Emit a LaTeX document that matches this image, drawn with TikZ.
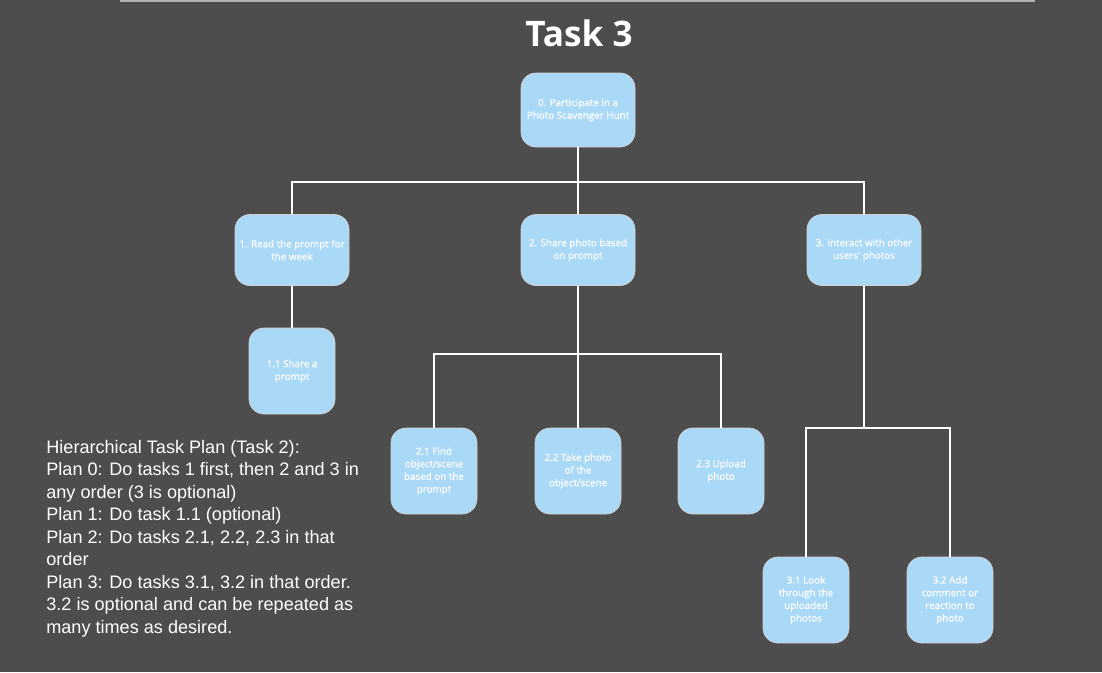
\documentclass[tikz,border=0pt]{standalone}
\usepackage{fontspec}
\setmainfont{Open Sans}
\newfontfamily\plainfont{Liberation Sans}
\newfontfamily\boxfont[FakeBold=0.7]{Open Sans}
\usetikzlibrary{positioning}
\definecolor{bgdark}{HTML}{4D4D4D}
\definecolor{boxblue}{HTML}{AAD9F7}
\tikzstyle{task} = [rectangle, rounded corners=0.3cm, minimum width=2.28cm, minimum height=1.42cm, align=center, draw=gray!35, line width=0.4pt, fill=boxblue, text=white, font=\boxfont\fontsize{5.6}{7.2}\selectfont, inner sep=1pt]
\tikzstyle{subtask} = [task, minimum width=1.72cm, minimum height=1.72cm]
\tikzstyle{line} = [white, line width=0.8pt]

\begin{document}
\begin{tikzpicture}

\fill [bgdark] (0,0) rectangle (22.04,-13.44);
\useasboundingbox (0,0) rectangle (22.04,-13.44);
\draw [gray!60, line width=1.5pt] (2.4,-0.02) -- (20.7,-0.02);

\node (title) [text=white, font=\fontsize{20}{22}\selectfont\bfseries] at (11.58,-0.66) {Task 3};

\node (t0) [task, minimum height=1.48cm] at (11.56,-2.2) {0. Participate in a\\Photo Scavenger Hunt};

\node (t1) [task] at (5.84,-5.0) {1. Read the prompt for\\the week};
\node (t2) [task] at (11.56,-5.0) {2. Share photo based\\on prompt};
\node (t3) [task] at (17.28,-5.0) {3. Interact with other\\users' photos};

\node (t11) [subtask] at (5.84,-7.42) {1.1 Share a\\prompt};

\node (t21) [subtask] at (8.68,-9.42) {2.1 Find\\object/scene\\based on the\\prompt};
\node (t22) [subtask] at (11.56,-9.42) {2.2 Take photo\\of the\\object/scene};
\node (t23) [subtask] at (14.42,-9.42) {2.3 Upload\\photo};

\node (t31) [subtask] at (16.12,-12.0) {3.1 Look\\through the\\uploaded\\photos};
\node (t32) [subtask] at (19.0,-12.0) {3.2 Add\\comment or\\reaction to\\photo};

\coordinate (bus0) at (11.56,-3.64);
\coordinate (bus2) at (11.56,-7.08);
\coordinate (bus3) at (17.28,-8.56);

\draw [line] (t0) -- (t2);
\draw [line] (t1) |- (bus0) -| (t3);
\draw [line] (t1) -- (t11);
\draw [line] (t2) -- (t22);
\draw [line] (t21) |- (bus2) -| (t23);
\draw [line] (t3) -- (bus3);
\draw [line] (t31) |- (bus3) -| (t32);

\node (plan) [anchor=north west, align=left, text=white, font=\plainfont\fontsize{10.3}{12.8}\selectfont, inner sep=0pt] at (0.92,-8.8) {Hierarchical Task Plan (Task 2):\\
Plan 0: Do tasks 1 first, then 2 and 3 in\\
any order (3 is optional)\\
Plan 1: Do task 1.1 (optional)\\
Plan 2: Do tasks 2.1, 2.2, 2.3 in that\\
order\\
Plan 3: Do tasks 3.1, 3.2 in that order.\\
3.2 is optional and can be repeated as\\
many times as desired.};

\end{tikzpicture}
\end{document}
